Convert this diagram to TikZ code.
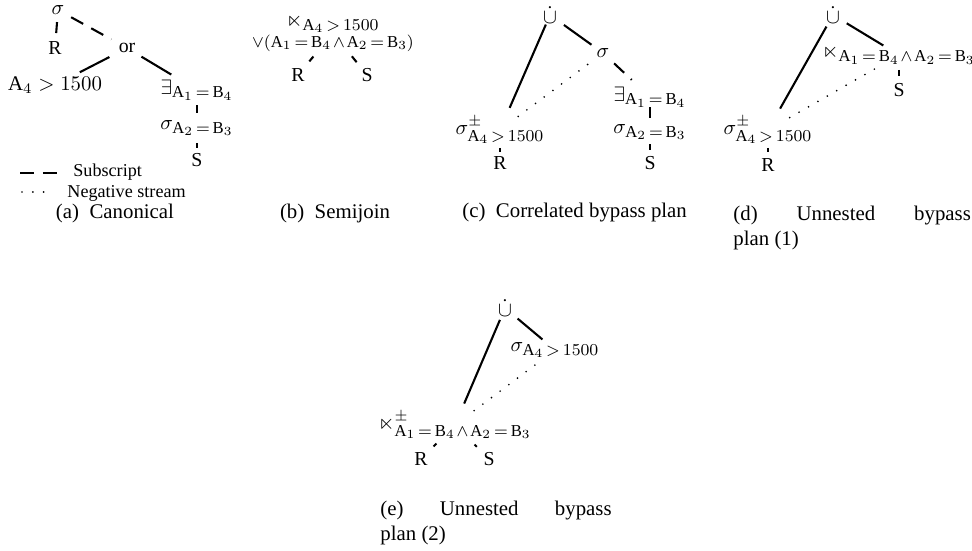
\documentclass[tikz,border=0pt]{standalone}
\usepackage{fontspec}
\setmainfont{Liberation Serif}
\usepackage{amsmath,amssymb}
\usetikzlibrary{positioning}
\newcommand{\cond}[1]{\mbox{\fontsize{8}{9}\selectfont\thickmuskip=3mu\medmuskip=2mu$#1$}}
\newcommand{\attA}[1]{\mathrm{A}_{#1}}
\newcommand{\attB}[1]{\mathrm{B}_{#1}}

\begin{document}
\begin{tikzpicture}[x=0.48pt,y=-0.48pt,
  op/.style={inner sep=0pt,font=\fontsize{10}{12}\selectfont},
  rel/.style={inner sep=0pt,font=\fontsize{9.5}{11}\selectfont},
  subcap/.style={inner sep=0pt,font=\fontsize{10}{12}\selectfont},
  key/.style={inner sep=0pt,anchor=west,font=\fontsize{8.7}{10}\selectfont},
  edge/.style={line width=1pt},
  subs/.style={edge,dash pattern=on 6.6pt off 4.4pt},
  neg/.style={line width=0.9pt,line cap=round,dash pattern=on 0pt off 5.2pt}]
  \useasboundingbox (0,0) rectangle (972,550);

  % (a) canonical
  \node[op] (a-sig) at (58,10) {$\sigma$};
  \node[rel] (a-r) at (55,48) {R};
  \node[rel] (a-or) at (127,48) {or};
  \node[op] (a-cmp) at (55,85) {$\attA{4} > 1500$};
  \node[op] (a-ex) at (197,90) {$\exists_{\cond{\attA1=\attB4}}$};
  \node[op] (a-sel) at (197,128) {$\sigma_{\cond{\attA2=\attB3}}$};
  \node[rel] (a-s) at (197,160) {S};
  \draw[edge,shorten <=5.8pt,shorten >=7.2pt] (a-sig.center) -- (a-r.center);
  \draw[subs,shorten <=7.2pt,shorten >=8.6pt] (a-sig.center) -- (a-or.center);
  \draw[edge,shorten <=9.5pt,shorten >=13.4pt] (a-or.center) -- (a-cmp.center);
  \draw[edge,shorten <=8.1pt,shorten >=14.4pt] (a-or.center) -- (a-ex.center);
  \draw[edge,shorten <=7.2pt,shorten >=7.2pt] (a-ex.center) -- (a-sel.center);
  \draw[edge,shorten <=7.2pt,shorten >=5.8pt] (a-sel.center) -- (a-s.center);

  % legend
  \coordinate (k1a) at (20,173);
  \coordinate (k1b) at (58,173);
  \draw[subs] (k1a) -- (k1b);
  \node[key] (k-sub) at (73,172) {Subscript};
  \coordinate (k2a) at (22,192);
  \coordinate (k2b) at (45,192);
  \draw[neg] (k2a) -- (k2b);
  \node[key] (k-neg) at (67,193) {Negative stream};

  % (b) semijoin
  \node[op,align=center] (b-sj) at (333,33)
    {$\ltimes_{\cond{\attA4>1500}}$\\[-2pt]$\cond{\vee(\attA1=\attB4\wedge\attA2=\attB3)}$};
  \node[rel] (b-r) at (298,75) {R};
  \node[rel] (b-s) at (367,75) {S};
  \draw[edge,shorten <=14.7pt,shorten >=8.5pt] (b-sj.center) -- (b-r.center);
  \draw[edge,shorten <=14.4pt,shorten >=7.9pt] (b-sj.center) -- (b-s.center);

  % (c) correlated bypass
  \node[op] (c-u) at (550,15) {$\dot{\cup}$};
  \node[op] (c-sg) at (603,53) {$\sigma$};
  \node[op] (c-ex) at (650,97) {$\exists_{\cond{\attA1=\attB4}}$};
  \node[op] (c-sel) at (650,132) {$\sigma_{\cond{\attA2=\attB3}}$};
  \node[rel] (c-s) at (650,163) {S};
  \node[op] (c-rs) at (500,130) {$\sigma^{\pm}_{\cond{\attA4>1500}}$};
  \node[rel] (c-r) at (500,163) {R};
  \draw[edge,shorten <=5pt,shorten >=11.6pt] (c-u.center) -- (c-rs.center);
  \draw[edge,shorten <=8.2pt,shorten >=6.8pt] (c-u.center) -- (c-sg.center);
  \draw[subs,shorten <=7.3pt,shorten >=12pt] (c-sg.center) -- (c-ex.center);
  \draw[edge,shorten <=4.8pt,shorten >=6.7pt] (c-ex.center) -- (c-sel.center);
  \draw[edge,shorten <=5.8pt,shorten >=6.2pt] (c-sel.center) -- (c-s.center);
  \draw[edge,shorten <=8.6pt,shorten >=5.3pt] (c-rs.center) -- (c-r.center);
  \draw[neg,shorten <=10.9pt,shorten >=4.3pt] (c-rs.center) -- (c-sg.center);

  % (d) unnested bypass (1)
  \node[op] (d-u) at (833,15) {$\dot{\cup}$};
  \node[op] (d-sj) at (899,55) {$\ltimes_{\cond{\attA1=\attB4\wedge\attA2=\attB3}}$};
  \node[rel] (d-s) at (899,90) {S};
  \node[op] (d-rs) at (768,130) {$\sigma^{\pm}_{\cond{\attA4>1500}}$};
  \node[rel] (d-r) at (768,165) {R};
  \draw[edge,shorten <=6.4pt,shorten >=11.8pt] (d-u.center) -- (d-rs.center);
  \draw[edge,shorten <=7.7pt,shorten >=8.8pt] (d-u.center) -- (d-sj.center);
  \draw[edge,shorten <=7.2pt,shorten >=6.7pt] (d-sj.center) -- (d-s.center);
  \draw[edge,shorten <=8.6pt,shorten >=6.2pt] (d-rs.center) -- (d-r.center);
  \draw[neg,shorten <=12pt,shorten >=11.2pt] (d-rs.center) -- (d-sj.center);

  % (e) unnested bypass (2)
  \node[op] (e-u) at (505,308) {$\dot{\cup}$};
  \node[op] (e-sel) at (555,350) {$\sigma_{\cond{\attA4>1500}}$};
  \node[op] (e-sj) at (455,425) {$\ltimes^{\pm}_{\cond{\attA1=\attB4\wedge\attA2=\attB3}}$};
  \node[rel] (e-r) at (421,459) {R};
  \node[rel] (e-s) at (489,459) {S};
  \draw[edge,shorten <=6.2pt,shorten >=11.2pt] (e-u.center) -- (e-sj.center);
  \draw[edge,shorten <=7.9pt,shorten >=7.9pt] (e-u.center) -- (e-sel.center);
  \draw[neg,shorten <=11.5pt,shorten >=9pt] (e-sj.center) -- (e-sel.center);
  \draw[edge,shorten <=12.6pt,shorten >=8.5pt] (e-sj.center) -- (e-r.center);
  \draw[edge,shorten <=13.3pt,shorten >=8.3pt] (e-sj.center) -- (e-s.center);

  % captions
  \node[subcap] (cap-a) at (115,213) {(a)\hspace{5pt}Canonical};
  \node[subcap] (cap-b) at (335,213) {(b)\hspace{5pt}Semijoin};
  \node[subcap,anchor=west] (cap-c) at (462,213) {(c)\hspace{5pt}Correlated bypass plan};
  \node[subcap,anchor=north west,text width=114pt,align=justify] (cap-d) at (733,206)
    {(d)\hfill Unnested\hfill bypass\\plan (1)};
  \node[subcap,anchor=north west,text width=111pt,align=justify] (cap-e) at (380,501)
    {(e)\hfill Unnested\hfill bypass\\plan (2)};
\end{tikzpicture}
\end{document}
